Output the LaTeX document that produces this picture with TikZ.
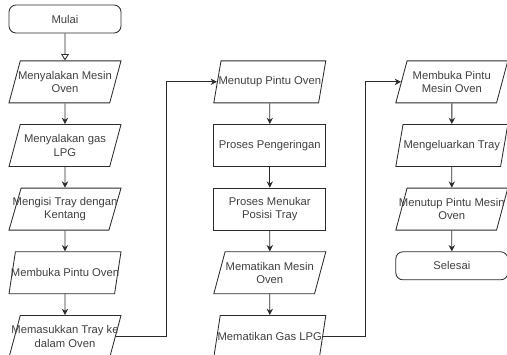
\documentclass[tikz,border=0pt]{standalone}
\usepackage{fontspec}
\setmainfont{Liberation Sans}
\usepackage{xcolor}
\usepackage{tikz}
\usetikzlibrary{shapes.geometric, arrows.meta, positioning, calc}
\definecolor{linegray}{HTML}{2B2B2B}
\definecolor{textgray}{HTML}{404040}
\newcommand{\flowfont}{\fontsize{8}{9.5}\selectfont}

\begin{document}
\begin{tikzpicture}[
    node distance=0.52cm,
    proc/.style={rectangle, draw=linegray, text=textgray, minimum width=2.8cm, minimum height=1.05cm, align=center, font=\flowfont, line width=0.6pt},
    io/.style={trapezium, trapezium left angle=70, trapezium right angle=110, trapezium stretches body, draw=linegray, text=textgray, minimum width=2.8cm, minimum height=1.05cm, inner xsep=-10pt, align=center, font=\flowfont, line width=0.6pt},
    term/.style={rectangle, rounded corners=5pt, draw=linegray, text=textgray, minimum width=2.8cm, minimum height=0.7cm, align=center, font=\flowfont, line width=0.6pt},
    arrow/.style={-{Stealth[length=4.5pt, width=4.5pt]}, line width=0.6pt, color=linegray},
    openarrow/.style={-{Triangle[open, length=4.5pt, width=5.5pt]}, line width=0.6pt, color=linegray}
]
\useasboundingbox (0,0) rectangle (12.675,-8.85);

% kolom kiri
\node[term] (mulai) at (1.625,-0.475) {Mulai};
\node[io, below=0.675cm of mulai] (nyalaMesin) {Menyalakan Mesin\\Oven};
\node[io, below=of nyalaMesin] (nyalaGas) {Menyalakan gas\\LPG};
\node[io, below=of nyalaGas] (isiTray) {Mengisi Tray dengan\\Kentang};
\node[io, below=of isiTray] (bukaPintu) {Membuka Pintu Oven};
\node[io, below=of bukaPintu] (masukTray) {Memasukkan Tray ke\\dalam Oven};

% kolom tengah
\node[io, right=2.53cm of nyalaMesin] (tutupPintu) {Menutup Pintu Oven};
\node[proc, below=of tutupPintu] (kering) {Proses Pengeringan};
\node[proc, below=of kering] (tukarTray) {Proses Menukar\\Posisi Tray};
\node[io, below=of tukarTray] (matiMesin) {Mematikan Mesin\\Oven};
\node[io, below=of matiMesin] (matiGas) {Mematikan Gas LPG};

% kolom kanan
\node[io, right=1.96cm of tutupPintu] (bukaMesin) {Membuka Pintu\\Mesin Oven};
\node[io, below=of bukaMesin] (keluarTray) {Mengeluarkan Tray};
\node[io, below=of keluarTray] (tutupMesin) {Menutup Pintu Mesin\\Oven};
\node[term, below=of tutupMesin] (selesai) {Selesai};

\draw[openarrow] (mulai) -- (nyalaMesin);
\draw[arrow] (nyalaMesin) -- (nyalaGas);
\draw[arrow] (nyalaGas) -- (isiTray);
\draw[arrow] (isiTray) -- (bukaPintu);
\draw[arrow] (bukaPintu) -- (masukTray);
\draw[arrow] (masukTray.east) -- ++(1.27,0) |- (tutupPintu.west);

\draw[arrow] (tutupPintu) -- (kering);
\draw[arrow] (kering) -- (tukarTray);
\draw[arrow] (tukarTray) -- (matiMesin);
\draw[arrow] (matiMesin) -- (matiGas);
\draw[arrow] (matiGas.east) -- ++(1.07,0) |- (bukaMesin.west);

\draw[arrow] (bukaMesin) -- (keluarTray);
\draw[arrow] (keluarTray) -- (tutupMesin);
\draw[arrow] (tutupMesin) -- (selesai);

\end{tikzpicture}
\end{document}
